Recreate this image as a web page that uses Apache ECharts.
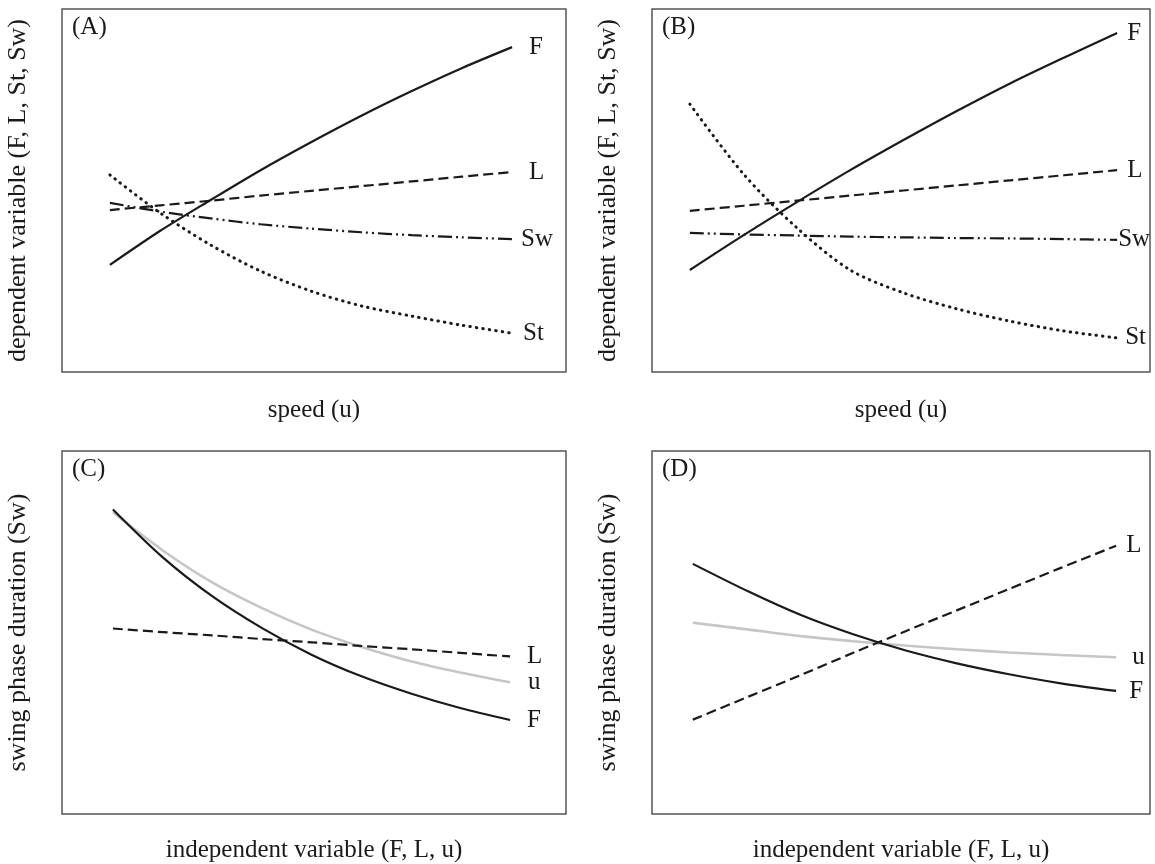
<!DOCTYPE html>
<html>
<head>
<meta charset="utf-8">
<style>
    html, body { margin: 0; padding: 0; background: #fff; }
    #main { width: 1155px; height: 864px; }
</style>
<script src="https://cdn.jsdelivr.net/npm/echarts@6/dist/echarts.min.js"></script>
</head>
<body>
<div id="main"></div>
<script>
    // panel A: dependent variables vs speed
    var xA = [9.5, 19.5, 29.5, 39.4, 49.4, 59.4, 69.4, 79.3, 89.3];
    var aF = [29.5, 38.9, 47.4, 55.6, 63.3, 70.6, 77.4, 83.7, 89.5];
    var aL = [44.6, 45.9, 47.2, 48.6, 49.9, 51.2, 52.5, 53.8, 55.1];
    var aSw = [46.6, 44.2, 42.3, 40.7, 39.5, 38.5, 37.7, 37.1, 36.6];
    var aSt = [54.3, 43.8, 35.0, 27.8, 22.3, 18.2, 15.4, 12.9, 10.7];

    // panel B
    var xB = [7.6, 18.4, 29.1, 39.8, 50.5, 61.2, 71.9, 82.7, 93.4];
    var bF = [28.1, 37.7, 46.8, 55.6, 63.9, 71.9, 79.5, 86.6, 93.4];
    var bL = [44.4, 45.8, 47.2, 48.6, 50.0, 51.4, 52.8, 54.2, 55.6];
    var bSw = [38.3, 37.9, 37.6, 37.3, 37.1, 36.9, 36.8, 36.6, 36.4];
    var bSt = [73.8, 54.5, 39.7, 28.1, 21.8, 17.4, 14.0, 11.3, 9.4];

    // panel C: swing phase duration vs independent variable
    var xC = [10.1, 20.0, 29.8, 39.7, 49.5, 59.3, 69.2, 79.0, 88.9];
    var cF = [83.9, 70.7, 60.0, 51.2, 43.9, 38.0, 33.2, 29.2, 25.9];
    var cU = [83.1, 72.6, 63.8, 56.7, 50.8, 46.1, 42.1, 39.0, 36.3];
    var cL = [51.1, 50.1, 49.2, 48.2, 47.3, 46.3, 45.4, 44.4, 43.4];

    // panel D
    var xD = [8.2, 19.5, 29.9, 40.4, 50.8, 61.2, 71.7, 82.1, 93.2];
    var dF = [68.9, 61.2, 54.8, 49.5, 45.1, 41.5, 38.5, 36.0, 33.9];
    var dU = [52.7, 50.8, 49.0, 47.6, 46.4, 45.4, 44.5, 43.8, 43.2];
    var dL = [26.0, 32.4, 38.3, 44.4, 50.3, 56.1, 62.0, 67.8, 73.9];

    var panelNames = ['(A)', '(B)', '(C)', '(D)'];
    var xTitles = ['speed (u)', 'speed (u)', 'independent variable (F, L, u)', 'independent variable (F, L, u)'];
    var yTitles = ['dependent variable (F, L, St, Sw)', 'dependent variable (F, L, St, Sw)',
        'swing phase duration (Sw)', 'swing phase duration (Sw)'];

    var FONT = '"Liberation Serif", "DejaVu Serif", serif';
    var INK = '#1a1a1a';

    var styles = {
        solid: {type: 'solid', width: 2.2, color: INK},
        dash: {type: [10, 5], width: 2.2, color: INK},
        dashdot: {type: [14, 4, 2, 4, 2, 4], width: 2.2, color: INK},
        dot: {type: [0.5, 6], width: 3, cap: 'round', color: INK},
        grey: {type: 'solid', width: 2.6, color: '#c6c6c6'}
    };

    function pairs(xs, ys) {
        return xs.map(function (x, i) { return [x, ys[i]]; });
    }

    function line(idx, name, xs, ys, style, dist) {
        return {
            type: 'line',
            name: name,
            xAxisIndex: idx,
            yAxisIndex: idx,
            data: pairs(xs, ys),
            showSymbol: false,
            smooth: 0.3,
            lineStyle: styles[style],
            endLabel: {
                show: true,
                formatter: name,
                distance: dist,
                fontFamily: FONT,
                fontSize: 25,
                color: INK
            }
        };
    }

    var grids = [
        {left: 62, top: 9, width: 504, height: 363},
        {left: 652, top: 9, width: 498, height: 363},
        {left: 62, top: 451, width: 504, height: 366},
        {left: 652, top: 451, width: 498, height: 366}
    ];

    var option = {
        animation: false,
        backgroundColor: '#fff',
        grid: grids.map(function (g) {
            return Object.assign({show: true, borderColor: '#555', borderWidth: 1.5, containLabel: false}, g);
        }),
        xAxis: grids.map(function (g, i) {
            return {
                gridIndex: i, type: 'value', min: 0, max: 100,
                axisLine: {show: false}, axisTick: {show: false},
                axisLabel: {show: false}, splitLine: {show: false},
                name: xTitles[i], nameLocation: 'middle', nameGap: i < 2 ? 26 : 24,
                nameTextStyle: {fontFamily: FONT, fontSize: 25, color: INK}
            };
        }),
        yAxis: grids.map(function (g, i) {
            return {
                gridIndex: i, type: 'value', min: 0, max: 100,
                axisLine: {show: false}, axisTick: {show: false},
                axisLabel: {show: false}, splitLine: {show: false},
                name: yTitles[i], nameLocation: 'middle', nameGap: 31,
                nameTextStyle: {fontFamily: FONT, fontSize: 26, color: INK}
            };
        }),
        graphic: grids.map(function (g, i) {
            return {
                type: 'text', left: g.left + 10, top: g.top + 6,
                style: {text: panelNames[i], font: '25px ' + FONT, fill: INK}
            };
        }),
        series: [
            line(0, 'St', xA, aSt, 'dot', 11),
            line(0, 'Sw', xA, aSw, 'dashdot', 9),
            line(0, 'L', xA, aL, 'dash', 17),
            line(0, 'F', xA, aF, 'solid', 17),

            line(1, 'St', xB, bSt, 'dot', 8),
            line(1, 'Sw', xB, bSw, 'dashdot', 1),
            line(1, 'L', xB, bL, 'dash', 10),
            line(1, 'F', xB, bF, 'solid', 10),

            line(2, 'u', xC, cU, 'grey', 18),
            line(2, 'L', xC, cL, 'dash', 17),
            line(2, 'F', xC, cF, 'solid', 17),

            line(3, 'u', xD, dU, 'grey', 16),
            line(3, 'L', xD, dL, 'dash', 10),
            line(3, 'F', xD, dF, 'solid', 13)
        ]
    };

    var myChart = echarts.init(document.getElementById('main'));
    myChart.setOption(option);
</script>
</body>
</html>
